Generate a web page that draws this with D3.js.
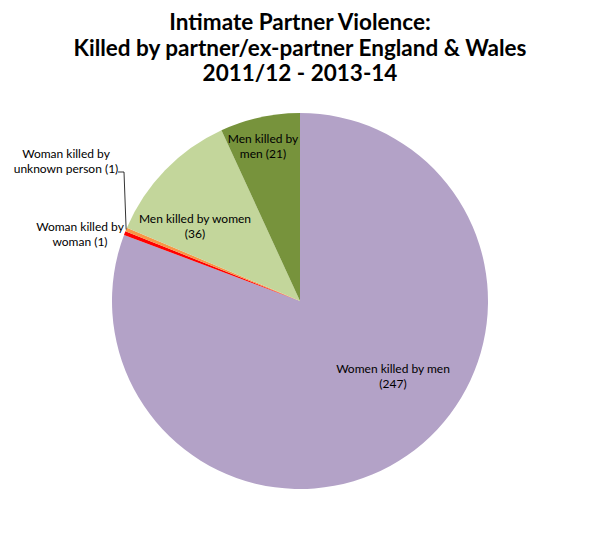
<!DOCTYPE html>
<html>
<head>
<meta charset="utf-8">
<script src="https://cdn.jsdelivr.net/npm/d3@7"></script>
<style>
  body { margin: 0; background: #fff; }
  text { font-family: Lato, "Open Sans", sans-serif; fill: #000; }
</style>
</head>
<body>
<svg id="chart"></svg>
<script>
// Chart values
const titleLines = ['Intimate Partner Violence:', 'Killed by partner/ex-partner England & Wales', '2011/12 - 2013-14'];
const categories = ['Women killed by men', 'Woman killed by woman', 'Woman killed by unknown person', 'Men killed by women', 'Men killed by men'];
const counts = [247, 1, 1, 36, 21];
const sliceColors = ['#b3a2c7', '#ff0000', '#f79646', '#c3d69b', '#77933c'];

const width = 600, height = 553;
const cx = 300, cy = 301, radius = 188;

const svg = d3.select('#chart')
  .attr('width', width)
  .attr('height', height);

// Title
svg.append('g')
  .selectAll('text')
  .data(titleLines)
  .enter().append('text')
  .attr('x', width / 2)
  .attr('y', (d, i) => 30 + i * 25.5)
  .attr('text-anchor', 'middle')
  .style('font-size', '22.5px')
  .style('font-weight', 'bold')
  .text(d => d);

const data = categories.map((c, i) => ({ name: c, value: counts[i], color: sliceColors[i] }));

const pie = d3.pie()
  .sort(null)
  .value(d => d.value);

const arc = d3.arc()
  .innerRadius(0)
  .outerRadius(radius);

const g = svg.append('g')
  .attr('transform', `translate(${cx},${cy})`);

const arcs = pie(data);

g.selectAll('.slice')
  .data(arcs)
  .enter().append('path')
  .attr('class', 'slice')
  .attr('d', arc)
  .attr('fill', d => d.data.color);

// Two-line labels and where each one sits
const labelLines = [
  ['Women killed by men', '(247)'],
  ['Woman killed by', 'woman (1)'],
  ['Woman killed by', 'unknown person (1)'],
  ['Men killed by women', '(36)'],
  ['Men killed by', 'men (21)']
];
const labelPos = [
  [393, 373],
  [80, 231],
  [66, 158],
  [195, 223],
  [263, 143]
];

const labels = svg.append('g')
  .selectAll('g')
  .data(arcs)
  .enter().append('g');

labels.each(function(d, i) {
  d3.select(this).selectAll('text')
    .data(labelLines[i])
    .enter().append('text')
    .attr('x', labelPos[i][0])
    .attr('y', (t, j) => labelPos[i][1] + j * 14.5)
    .attr('text-anchor', 'middle')
    .style('font-size', '12px')
    .text(t => t);
});

// Leader line for the small "unknown person" slice
const unk = arcs[2];
const mid = (unk.startAngle + unk.endAngle) / 2;
const edge = [cx + Math.sin(mid) * radius, cy - Math.cos(mid) * radius];
svg.append('polyline')
  .attr('points', `118,172 124,172 ${edge[0]},${edge[1]}`)
  .attr('fill', 'none')
  .attr('stroke', '#000')
  .attr('stroke-width', 0.8);
</script>
</body>
</html>
